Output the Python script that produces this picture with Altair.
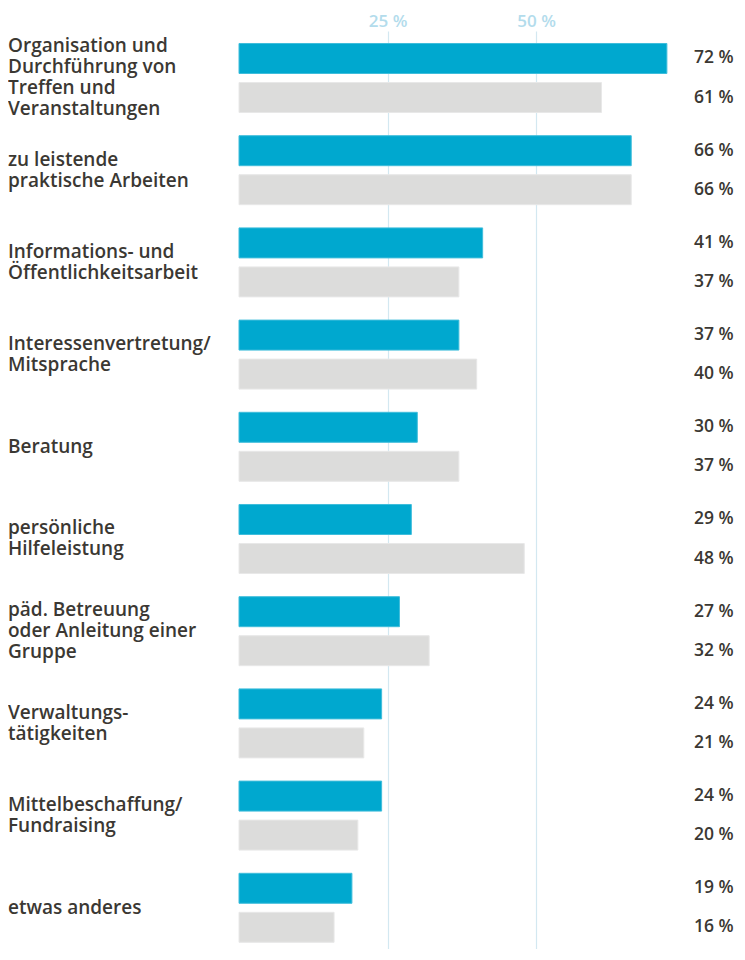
import altair as alt
import pandas as pd

categories = [
    "Organisation und|Durchführung von|Treffen und|Veranstaltungen",
    "zu leistende|praktische Arbeiten",
    "Informations- und|Öffentlichkeitsarbeit",
    "Interessenvertretung/|Mitsprache",
    "Beratung",
    "persönliche|Hilfeleistung",
    "päd. Betreuung|oder Anleitung einer|Gruppe",
    "Verwaltungs-|tätigkeiten",
    "Mittelbeschaffung/|Fundraising",
    "etwas anderes",
]
series_names = ["A", "B"]
values_a = [72, 66, 41, 37, 30, 29, 27, 24, 24, 19]
values_b = [61, 66, 37, 40, 37, 48, 32, 21, 20, 16]
grid_ticks = [25, 50]

# long table for the bars
rows = []
for c, a, b in zip(categories, values_a, values_b):
    rows.append({"cat": c, "series": "A", "value": a})
    rows.append({"cat": c, "series": "B", "value": b})
df = pd.DataFrame(rows)

# one row per label line, so multi-line labels can be centred on their group
line_rows = []
for i, c in enumerate(categories):
    parts = c.split("|")
    n = len(parts)
    for j, p in enumerate(parts):
        line_rows.append({"idx": i, "line": p, "lpos": j - (n - 1) / 2})
lines_df = pd.DataFrame(line_rows)

FONT = "Open Sans"
TEXT_COLOR = "#3b3833"

PLOT_W = 498
PLOT_H = 918
X_MAX = 83.8
P_INNER = 0.2516
P_OUTER = 0.1041
ALIGN = 0.651
N = len(categories)
LINE_H = 21

# geometry of the band scale, used to line the label layer up with it
step = PLOT_H / (N - P_INNER + 2 * P_OUTER)
start = (PLOT_H - step * (N - P_INNER)) * ALIGN
center0 = start + step * (1 - P_INNER) / 2
dom_lo = -center0 / step
dom_hi = (PLOT_H - center0) / step

y_band = alt.Scale(paddingInner=P_INNER, paddingOuter=P_OUTER, align=ALIGN)
y_enc = alt.Y("cat:N", sort=categories, axis=None, scale=y_band)
yoff_enc = alt.YOffset(
    "series:N",
    sort=series_names,
    scale=alt.Scale(paddingInner=0.231, paddingOuter=0),
)
x_enc = alt.X(
    "value:Q",
    scale=alt.Scale(domain=[0, X_MAX], nice=False, zero=True),
    axis=alt.Axis(
        orient="top",
        values=grid_ticks,
        labelExpr="datum.value + ' %'",
        domain=False,
        ticks=False,
        grid=True,
        gridColor="#d3e8f1",
        gridWidth=1.2,
        labelColor="#b3dcec",
        labelFontSize=17,
        labelFontWeight=600,
        labelFont=FONT,
        labelPadding=1,
        title=None,
    ),
)

bars = alt.Chart(df).mark_bar(strokeWidth=1).encode(
    x=x_enc,
    y=y_enc,
    yOffset=yoff_enc,
    color=alt.Color(
        "series:N",
        scale=alt.Scale(domain=series_names, range=["#00a8cf", "#dcdcdb"]),
        legend=None,
    ),
    stroke=alt.Stroke(
        "series:N",
        scale=alt.Scale(domain=series_names, range=["#3fbddb", "#e8e8e8"]),
        legend=None,
    ),
)

value_labels = alt.Chart(df).transform_calculate(
    label="datum.value + ' %'"
).mark_text(
    align="left", baseline="middle", font=FONT, fontSize=17.5, fontWeight=600,
    color=TEXT_COLOR,
).encode(
    x=alt.value(455),
    y=y_enc,
    yOffset=yoff_enc,
    text="label:N",
)

cat_labels = alt.Chart(lines_df).transform_calculate(
    ypos=f"datum.idx + datum.lpos * {LINE_H / step}"
).mark_text(
    align="left", baseline="middle",
    font=FONT, fontSize=19, fontWeight=600, color=TEXT_COLOR,
).encode(
    x=alt.value(-231),
    y=alt.Y("ypos:Q", axis=None,
            scale=alt.Scale(domain=[dom_lo, dom_hi], reverse=True, nice=False, zero=False)),
    text="line:N",
)

chart = alt.layer(bars, value_labels, cat_labels).resolve_scale(
    y="independent"
).properties(
    width=PLOT_W,
    height=PLOT_H,
    padding={"left": 0, "top": 4, "right": 0, "bottom": 0},
).configure_view(stroke=None)

chart.save("out.html", embed_options={"renderer": "svg", "actions": False})
